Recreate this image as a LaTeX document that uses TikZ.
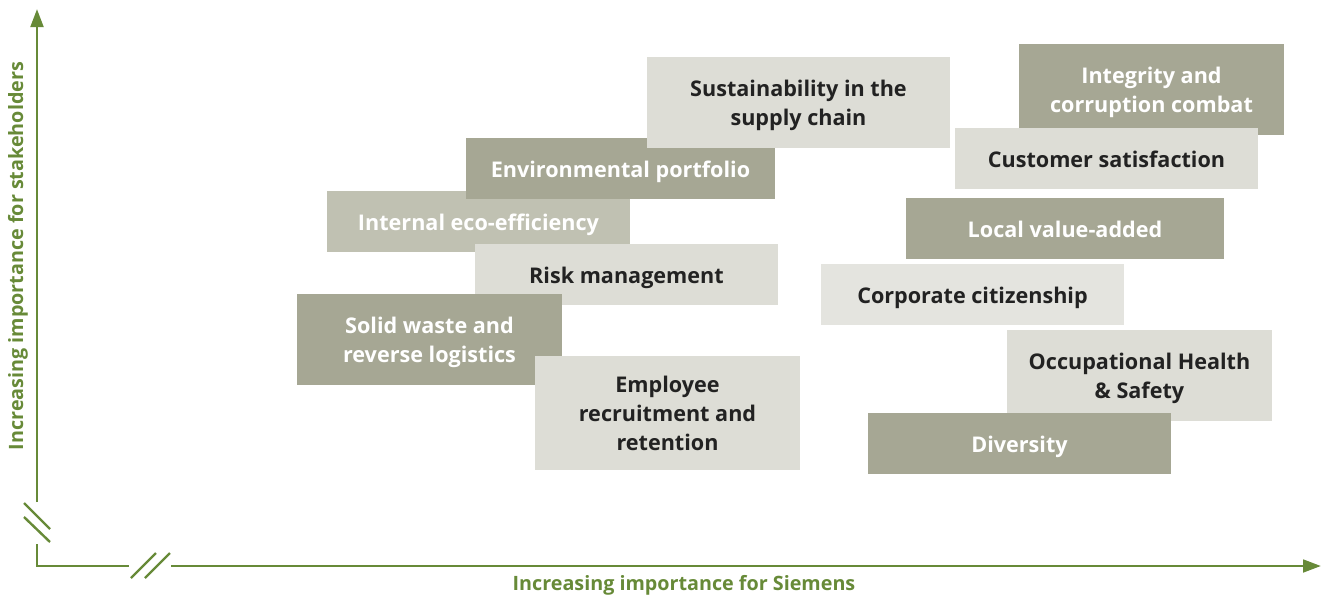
\documentclass[tikz,border=0pt]{standalone}
\usepackage{fontspec}
\setmainfont{Open Sans}
\usetikzlibrary{arrows.meta}
\definecolor{axisgreen}{HTML}{678A38}
\definecolor{boxdark}{HTML}{A6A794}
\definecolor{boxmid}{HTML}{C0C1B2}
\definecolor{boxlight}{HTML}{DDDDD6}
\definecolor{boxpale}{HTML}{E4E4DF}
\definecolor{textdark}{HTML}{222222}
\begin{document}
\begin{tikzpicture}[x=0.75pt,y=-0.75pt,
  topic/.style={rectangle,inner sep=0pt,align=center,text height=12.75pt,text depth=0pt,
    font=\fontsize{16.2pt}{21.6pt}\selectfont\bfseries},
  twolines/.style={text height=34.35pt},
  threelines/.style={text height=55.95pt},
  wide/.style={minimum width=227.25pt},
  narrow/.style={minimum width=198.75pt},
  short/.style={minimum height=45.75pt},
  tall/.style={minimum height=68.25pt},
  darktopic/.style={topic,fill=boxdark,text=white},
  midtopic/.style={topic,fill=boxmid,text=white},
  lighttopic/.style={topic,fill=boxlight,text=textdark},
  paletopic/.style={topic,fill=boxpale,text=textdark},
  axisline/.style={draw=axisgreen,line width=2.1pt},
  breakmark/.style={draw=axisgreen,line width=1.8pt},
  axislabel/.style={text=axisgreen,font=\fontsize{14.8pt}{17pt}\selectfont\bfseries},
  tip/.style={-{Triangle[length=13.5pt,width=9.5pt]}}]
\useasboundingbox (0,0) rectangle (1325,596);

% axes with broken segments near the origin
\coordinate (origin) at (37,566);
\coordinate (ybreaklow) at (37,544);
\coordinate (ybreakhigh) at (37,502);
\coordinate (ytop) at (37,9);
\coordinate (xbreakleft) at (129,566);
\coordinate (xbreakright) at (171,566);
\coordinate (xend) at (1321,566);
\draw[axisline] (ybreaklow) -- (origin) -- (xbreakleft);
\draw[axisline,tip] (ybreakhigh) -- (ytop);
\draw[axisline,tip] (xbreakright) -- (xend);

% break marks
\coordinate (ya1) at (24,503); \coordinate (yb1) at (50,529);
\coordinate (ya2) at (24,517); \coordinate (yb2) at (50,542);
\coordinate (xa1) at (131,578); \coordinate (xb1) at (156,553);
\coordinate (xa2) at (145,578); \coordinate (xb2) at (170,553);
\draw[breakmark] (ya1) -- (yb1);
\draw[breakmark] (ya2) -- (yb2);
\draw[breakmark] (xa1) -- (xb1);
\draw[breakmark] (xa2) -- (xb2);

% axis titles
\node[axislabel,rotate=90] (ylabel) at (18,256) {Increasing importance for stakeholders};
\node[axislabel] (xlabel) at (684,585.5) {Increasing importance for Siemens};

% left cluster
\node[midtopic,wide,short] (eco) at (478.5,221.5) {Internal eco-efficiency};
\node[darktopic,short,minimum width=231.75pt] (portfolio) at (620.5,168.5) {Environmental portfolio};
\node[lighttopic,wide,tall,twolines] (supply) at (798.5,102.5) {Sustainability in the\\supply chain};
\node[lighttopic,wide,short] (risk) at (626.5,274.5) {Risk management};
\node[darktopic,narrow,tall,twolines] (waste) at (429.5,339.5) {Solid waste and\\reverse logistics};
\node[lighttopic,narrow,threelines,minimum height=85.5pt] (employee) at (667.5,413) {Employee\\recruitment and\\retention};

% right cluster
\node[darktopic,narrow,tall,twolines] (integrity) at (1151.5,89.5) {Integrity and\\corruption combat};
\node[lighttopic,wide,short] (customer) at (1106.5,158.5) {Customer satisfaction};
\node[darktopic,short,minimum width=238.5pt] (local) at (1065,228.5) {Local value-added};
\node[paletopic,wide,short] (citizen) at (972.5,294.5) {Corporate citizenship};
\node[lighttopic,narrow,tall,twolines] (health) at (1139.5,375.5) {Occupational Health\\\& Safety};
\node[darktopic,wide,short] (diversity) at (1019.5,443.5) {Diversity};
\end{tikzpicture}
\end{document}
